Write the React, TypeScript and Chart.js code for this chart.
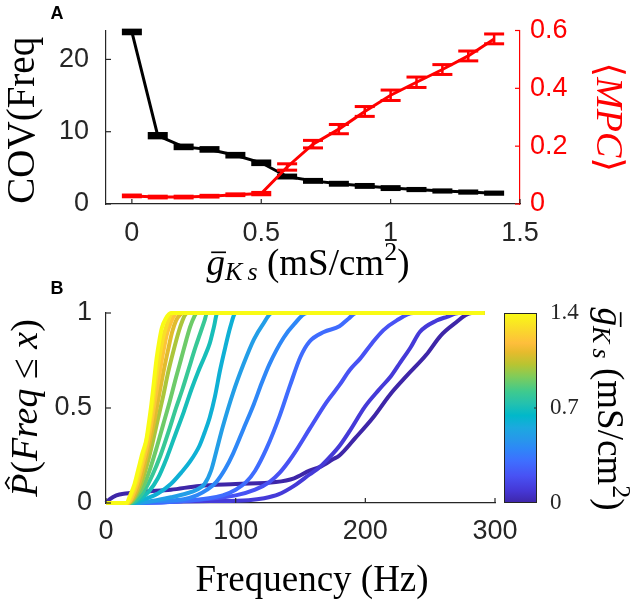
import React, { useEffect, useRef } from 'react';
import { Chart, registerables } from 'chart.js';

Chart.register(...registerables);

// ---------- Panel A data ----------
const gKs = [0, 0.1, 0.2, 0.3, 0.4, 0.5, 0.6, 0.7, 0.8, 0.9, 1.0, 1.1, 1.2, 1.3, 1.4];
const covFreq = [23.8, 9.45, 7.9, 7.55, 6.75, 5.7, 3.8, 3.2, 2.8, 2.5, 2.2, 2.0, 1.8, 1.65, 1.5];
const covErr = [0.25, 0.3, 0.25, 0.25, 0.25, 0.25, 0.2, 0.2, 0.2, 0.2, 0.2, 0.15, 0.15, 0.15, 0.15];
const mpc = [0.028, 0.024, 0.024, 0.027, 0.032, 0.036, 0.128, 0.207, 0.259, 0.32, 0.376, 0.421, 0.465, 0.512, 0.571];
const mpcErr = [0.003, 0.003, 0.003, 0.003, 0.003, 0.004, 0.011, 0.013, 0.016, 0.017, 0.018, 0.018, 0.017, 0.017, 0.017];
const gTicks = [0, 0.5, 1, 1.5];
const covTicks = [0, 10, 20];
const mpcTicks = [0, 0.2, 0.4, 0.6];

// ---------- Panel B data (empirical CDFs, [Hz, P]) ----------
const freqTicks = [0, 100, 200, 300];
const probTicks = [0, 0.5, 1];
const cbTicks = [0, 0.7, 1.4];

const cdf00 = [[0, 0], [3, 0.02], [8, 0.04], [15, 0.05], [30, 0.06], [50, 0.07], [72, 0.09], [100, 0.1], [131, 0.11], [145, 0.13], [157, 0.17], [165, 0.19], [175, 0.23], [180, 0.25], [192, 0.34], [206, 0.45], [219, 0.57], [232, 0.67], [247, 0.78], [258, 0.88], [268, 0.94], [282, 1], [292, 1]];
const cdf01 = [[0, 0], [10, 0], [30, 0.005], [80, 0.01], [110, 0.015], [122, 0.025], [133, 0.045], [145, 0.09], [157, 0.15], [165, 0.19], [175, 0.26], [180, 0.3], [188, 0.38], [200, 0.51], [211, 0.6], [220, 0.67], [227, 0.74], [235, 0.82], [242, 0.9], [255, 0.96], [263, 0.98], [272, 1], [292, 1]];
const cdf02 = [[0, 0], [25, 0], [60, 0.01], [100, 0.04], [115, 0.07], [126, 0.11], [134, 0.16], [141, 0.22], [147, 0.28], [157, 0.39], [170, 0.53], [180, 0.62], [188, 0.7], [196, 0.76], [205, 0.84], [214, 0.91], [224, 0.96], [237, 1], [292, 1]];
const cdf03 = [[0, 0], [25, 0], [60, 0.01], [90, 0.04], [100, 0.07], [108, 0.11], [115, 0.17], [124, 0.29], [134, 0.46], [142, 0.62], [150, 0.77], [157, 0.85], [168, 0.9], [180, 0.93], [187, 0.97], [193, 1], [292, 1]];
const cdf04 = [[0, 0], [22, 0], [40, 0.01], [60, 0.02], [70, 0.04], [78, 0.07], [85, 0.11], [92, 0.18], [98, 0.26], [106, 0.39], [114, 0.52], [120, 0.63], [126, 0.73], [137, 0.87], [145, 0.94], [155, 1], [292, 1]];
const cdf05 = [[0, 0], [22, 0], [35, 0.01], [50, 0.03], [62, 0.05], [70, 0.07], [76, 0.1], [81, 0.17], [85, 0.27], [90, 0.4], [98, 0.58], [106, 0.73], [114, 0.86], [121, 0.94], [128, 1], [292, 1]];
const cdf06 = [[0, 0], [21, 0], [30, 0.02], [40, 0.05], [50, 0.1], [58, 0.16], [65, 0.22], [72, 0.3], [76, 0.37], [80, 0.45], [84, 0.56], [88, 0.7], [92, 0.82], [96, 0.93], [100, 1], [292, 1]];
const cdf07 = [[0, 0], [20, 0], [26, 0.02], [33, 0.06], [40, 0.13], [47, 0.24], [54, 0.37], [60, 0.48], [66, 0.6], [71, 0.69], [76, 0.77], [80, 0.84], [83, 0.92], [86, 1], [292, 1]];
const cdf08 = [[0, 0], [19, 0], [24, 0.02], [30, 0.07], [36, 0.15], [42, 0.25], [48, 0.37], [54, 0.5], [59, 0.6], [64, 0.71], [69, 0.82], [73, 0.9], [76, 0.96], [78, 1], [292, 1]];
const cdf09 = [[0, 0], [18, 0], [23, 0.03], [29, 0.09], [34, 0.18], [39, 0.29], [44, 0.41], [49, 0.53], [54, 0.66], [58, 0.76], [62, 0.86], [65, 0.93], [68, 0.98], [70, 1], [292, 1]];
const cdf10 = [[0, 0], [18, 0], [22, 0.03], [27, 0.1], [32, 0.21], [36, 0.32], [40, 0.44], [44, 0.56], [48, 0.69], [52, 0.8], [56, 0.9], [59, 0.96], [61, 0.99], [63, 1], [292, 1]];
const cdf11 = [[0, 0], [17, 0], [21, 0.03], [26, 0.11], [30, 0.21], [34, 0.33], [38, 0.46], [41, 0.57], [44, 0.68], [48, 0.81], [51, 0.9], [54, 0.96], [57, 0.99], [59, 1], [292, 1]];
const cdf12 = [[0, 0], [17, 0], [20, 0.03], [24, 0.1], [28, 0.2], [32, 0.31], [35, 0.42], [38, 0.55], [41, 0.67], [44, 0.79], [47, 0.89], [50, 0.95], [53, 0.99], [55, 1], [292, 1]];
const cdf13 = [[0, 0], [16, 0], [19, 0.03], [23, 0.1], [27, 0.2], [30, 0.29], [33, 0.39], [36, 0.52], [38, 0.63], [41, 0.76], [44, 0.87], [47, 0.94], [49, 0.98], [52, 1], [292, 1]];
const cdf14 = [[0, 0], [16, 0], [18, 0.03], [22, 0.1], [25, 0.18], [28, 0.26], [31, 0.33], [33, 0.42], [35, 0.52], [37, 0.64], [39, 0.76], [41, 0.85], [43, 0.92], [46, 0.97], [50, 1], [292, 1]];
const cdfCurves = [cdf00, cdf01, cdf02, cdf03, cdf04, cdf05, cdf06, cdf07, cdf08, cdf09, cdf10, cdf11, cdf12, cdf13, cdf14];

// ---------- styles ----------
const SANS = "'Liberation Sans', Arial, sans-serif";
const SERIF = "'Liberation Serif', 'DejaVu Serif', serif";
const AXIS = '#262626';
const RED = '#ff0000';
// parula colormap anchors: [index of 64, r, g, b]
const PARULA: [number, number, number, number][] = [
  [0, 0.2422, 0.1504, 0.6603], [4, 0.2706, 0.2147, 0.8364], [9, 0.2810, 0.3228, 0.9579],
  [14, 0.2440, 0.4358, 0.9988], [18, 0.1786, 0.5289, 0.9682], [21, 0.1540, 0.5902, 0.9218],
  [25, 0.1113, 0.6635, 0.8763], [29, 0.0036, 0.7203, 0.7917], [33, 0.1408, 0.7584, 0.6842],
  [37, 0.2470, 0.7918, 0.5567], [42, 0.5044, 0.7993, 0.3480], [46, 0.7242, 0.7698, 0.1910],
  [50, 0.9035, 0.7330, 0.1774], [53, 0.9956, 0.7434, 0.2371], [57, 0.9786, 0.8386, 0.1766],
  [63, 0.9769, 0.9839, 0.0805],
];
function parula(t: number): string {
  const idx = Math.max(0, Math.min(1, t)) * 63;
  let k = 0;
  while (k < PARULA.length - 2 && PARULA[k + 1][0] < idx) k++;
  const a = PARULA[k], b = PARULA[k + 1];
  const f = (idx - a[0]) / (b[0] - a[0]);
  const c = [1, 2, 3].map((j) => Math.round(255 * (a[j] + (b[j] - a[j]) * f)));
  return `rgb(${c[0]},${c[1]},${c[2]})`;
}

type Run = { t: string; it?: boolean; sc?: number; dy?: number; bar?: boolean; hat?: boolean };
function drawRuns(ctx: CanvasRenderingContext2D, runs: Run[], cx: number, cy: number, rot: number, size: number, color: string) {
  ctx.save();
  ctx.translate(cx, cy);
  ctx.rotate(rot);
  ctx.fillStyle = color;
  ctx.strokeStyle = color;
  ctx.textBaseline = 'alphabetic';
  ctx.textAlign = 'left';
  const fontOf = (r: Run) => `${r.it ? 'italic ' : ''}${Math.round(size * (r.sc || 1))}px ${SERIF}`;
  const widths = runs.map((r) => { ctx.font = fontOf(r); return ctx.measureText(r.t).width; });
  const total = widths.reduce((a, b) => a + b, 0);
  let x = -total / 2;
  const base = 0.23 * size;
  runs.forEach((r, i) => {
    ctx.font = fontOf(r);
    const y = base - (r.dy || 0) * size;
    ctx.fillText(r.t, x, y);
    const w = widths[i];
    if (r.bar) {
      ctx.lineWidth = size * 0.045;
      ctx.beginPath();
      ctx.moveTo(x + w * 0.25, y - size * 0.6);
      ctx.lineTo(x + w * 1.05, y - size * 0.6);
      ctx.stroke();
    }
    if (r.hat) {
      const mx = x + w * 0.6;
      const top = y - size * 0.82;
      ctx.lineWidth = size * 0.045;
      ctx.beginPath();
      ctx.moveTo(mx - w * 0.26, top + size * 0.1);
      ctx.lineTo(mx, top);
      ctx.lineTo(mx + w * 0.26, top + size * 0.1);
      ctx.stroke();
    }
    x += w;
  });
  ctx.restore();
}

const gLabel: Run[] = [
  { t: 'g', it: true, bar: true }, { t: 'K\u2009s', it: true, sc: 0.7, dy: -0.15 },
  { t: ' (mS/cm' }, { t: '2', sc: 0.7, dy: 0.38 }, { t: ')' },
];

function inTicks(list: { axis: string; values: number[]; color: string; len: number }[]) {
  return {
    id: 'inTicks',
    afterDraw(chart: any) {
      const ctx = chart.ctx;
      list.forEach(({ axis, values, color, len }) => {
        const s = chart.scales[axis];
        ctx.save();
        ctx.strokeStyle = color;
        ctx.lineWidth = 1.2;
        values.forEach((v) => {
          const p = s.getPixelForValue(v);
          ctx.beginPath();
          if (s.isHorizontal()) { ctx.moveTo(p, s.top); ctx.lineTo(p, s.top - len); }
          else if (s.position === 'left') { ctx.moveTo(s.right, p); ctx.lineTo(s.right + len, p); }
          else { ctx.moveTo(s.left, p); ctx.lineTo(s.left - len, p); }
          ctx.stroke();
        });
        ctx.restore();
      });
    },
  };
}

const fixedTicks = (vals: number[]) => (s: any) => { s.ticks = vals.map((v) => ({ value: v })); };
const tickFont = { family: SANS, size: 27, lineHeight: 1 };

export default function App() {
  const refA = useRef<HTMLCanvasElement>(null);
  const refB = useRef<HTMLCanvasElement>(null);

  useEffect(() => {
    const errPlugin = {
      id: 'errbars',
      afterDatasetDraw(chart: any, args: any) {
        const ctx = chart.ctx;
        const xs = chart.scales.x;
        const isRed = args.index === 0;
        const ys = chart.scales[isRed ? 'yR' : 'yL'];
        const vals = isRed ? mpc : covFreq;
        const errs = isRed ? mpcErr : covErr;
        ctx.save();
        ctx.fillStyle = isRed ? RED : '#000';
        gKs.forEach((g, i) => {
          const px = xs.getPixelForValue(g);
          const hi = ys.getPixelForValue(vals[i] + errs[i]);
          const lo = ys.getPixelForValue(vals[i] - errs[i]);
          const half = 10, cap = 3;
          if (lo - hi < 6) {
            ctx.fillRect(px - half, hi - cap / 2, 2 * half, lo - hi + cap);
          } else {
            ctx.fillRect(px - half, hi - cap / 2, 2 * half, cap);
            ctx.fillRect(px - half, lo - cap / 2, 2 * half, cap);
            ctx.fillRect(px - 1.25, hi, 2.5, lo - hi);
          }
        });
        ctx.restore();
      },
    };
    const titlesA = {
      id: 'titlesA',
      afterDraw(chart: any) {
        const ctx = chart.ctx;
        const ca = chart.chartArea;
        const my = (ca.top + ca.bottom) / 2;
        ctx.save();
        ctx.font = `bold 18px ${SANS}`;
        ctx.fillStyle = '#000';
        ctx.textAlign = 'center';
        ctx.textBaseline = 'middle';
        ctx.fillText('A', 57, 14);
        ctx.fillText('B', 57, 289);
        ctx.restore();
        drawRuns(ctx, [{ t: 'COV(Freq' }], 25, my + 3, -Math.PI / 2, 39, '#000');
        drawRuns(ctx, [{ t: '\u27E8' }, { t: 'MPC', it: true }, { t: '\u27E9' }], 606, my, Math.PI / 2, 38, RED);
        drawRuns(ctx, gLabel, 308, 266, 0, 37, '#000');
      },
    };

    const chartA = new Chart(refA.current!, {
      type: 'line',
      data: {
        datasets: [
          { label: 'MPC', data: gKs.map((g, i) => ({ x: g, y: mpc[i] })), yAxisID: 'yR', borderColor: RED, borderWidth: 3, pointRadius: 0, tension: 0 },
          { label: 'COV', data: gKs.map((g, i) => ({ x: g, y: covFreq[i] })), yAxisID: 'yL', borderColor: '#000', borderWidth: 3, pointRadius: 0, tension: 0 },
        ],
      },
      options: {
        animation: false,
        responsive: false,
        layout: { padding: { top: 14, bottom: 317, left: 0, right: 0 } },
        plugins: { legend: { display: false }, tooltip: { enabled: false } },
        scales: {
          x: {
            type: 'linear', min: -0.1, max: 1.5,
            afterBuildTicks: fixedTicks(gTicks),
            afterFit: (s: any) => { s.height = 86; },
            grid: { display: false, drawTicks: false },
            border: { color: AXIS, width: 1.2 },
            ticks: { font: tickFont, color: AXIS, padding: 16, maxRotation: 0, autoSkip: false, callback: (v: any) => String(v) },
          },
          yL: {
            type: 'linear', position: 'left', min: 0, max: 24,
            afterBuildTicks: fixedTicks(covTicks),
            afterFit: (s: any) => { s.width = 106; },
            grid: { display: false, drawTicks: false },
            border: { color: AXIS, width: 1.2 },
            ticks: { font: tickFont, color: AXIS, padding: 17, callback: (v: any) => String(v) },
          },
          yR: {
            type: 'linear', position: 'right', min: 0, max: 0.6,
            afterBuildTicks: fixedTicks(mpcTicks),
            afterFit: (s: any) => { s.width = 110; },
            grid: { display: false, drawTicks: false },
            border: { color: RED, width: 1.2 },
            ticks: { font: tickFont, color: RED, padding: 10, callback: (v: any) => String(v) },
          },
        },
      } as any,
      plugins: [
        errPlugin,
        titlesA,
        inTicks([
          { axis: 'x', values: gTicks, color: AXIS, len: 5 },
          { axis: 'yL', values: covTicks, color: AXIS, len: 5 },
          { axis: 'yR', values: mpcTicks, color: RED, len: 5 },
        ]),
      ],
    });

    const colorbar = {
      id: 'colorbar',
      afterDraw(chart: any) {
        const ctx = chart.ctx;
        const ca = chart.chartArea;
        const cb = chart.scales.cb;
        const top = cb.getPixelForValue(cbTicks[cbTicks.length - 1]);
        const bot = cb.getPixelForValue(cbTicks[0]);
        const x0 = ca.right + 9, w = 33;
        const grad = ctx.createLinearGradient(0, bot, 0, top);
        PARULA.forEach((p) => grad.addColorStop(p[0] / 63, `rgb(${Math.round(p[1] * 255)},${Math.round(p[2] * 255)},${Math.round(p[3] * 255)})`));
        ctx.save();
        ctx.fillStyle = grad;
        ctx.fillRect(x0, top, w, bot - top);
        ctx.strokeStyle = AXIS;
        ctx.lineWidth = 1;
        ctx.strokeRect(x0 + 0.5, top + 0.5, w - 1, bot - top - 1);
        const pm = cb.getPixelForValue(cbTicks[1]);
        ctx.beginPath();
        ctx.moveTo(x0 + w, pm);
        ctx.lineTo(x0 + w - 3, pm);
        ctx.stroke();
        ctx.restore();
        drawRuns(ctx, [{ t: 'P', it: true, hat: true }, { t: '(' }, { t: 'Freq', it: true }, { t: ' \u2264 ' }, { t: 'x', it: true }, { t: ')' }], 28, (ca.top + ca.bottom) / 2, -Math.PI / 2, 38, '#000');
        drawRuns(ctx, [{ t: 'Frequency (Hz)' }], 312, 582, 0, 37, '#000');
        drawRuns(ctx, gLabel, 607, 409, Math.PI / 2, 37, '#000');
      },
    };

    const dsB = cdfCurves.map((pts, i) => ({
      label: `g${gKs[i]}`,
      data: pts.map(([x, y]) => ({ x, y })),
      borderColor: parula(gKs[i] / 1.4),
      borderWidth: 4,
      pointRadius: 0,
      cubicInterpolationMode: 'monotone',
      clip: false,
      yAxisID: 'y',
    })).reverse();

    const chartB = new Chart(refB.current!, {
      type: 'line',
      data: { datasets: dsB as any },
      options: {
        animation: false,
        responsive: false,
        layout: { padding: { top: 313, bottom: 0, left: 0, right: 0 } },
        plugins: { legend: { display: false }, tooltip: { enabled: false } },
        scales: {
          x: {
            type: 'linear', min: 0, max: 300,
            afterBuildTicks: fixedTicks(freqTicks),
            afterFit: (s: any) => { s.height = 104; },
            grid: { display: false, drawTicks: false },
            border: { color: AXIS, width: 1.2 },
            ticks: { font: tickFont, color: AXIS, padding: 15, maxRotation: 0, autoSkip: false, callback: (v: any) => String(v) },
          },
          y: {
            type: 'linear', position: 'left', min: 0, max: 1,
            afterBuildTicks: fixedTicks(probTicks),
            afterFit: (s: any) => { s.width = 106; },
            grid: { display: false, drawTicks: false },
            border: { color: AXIS, width: 1.2 },
            ticks: { font: tickFont, color: AXIS, padding: 14, callback: (v: any) => String(v) },
          },
          cb: {
            type: 'linear', position: 'right', min: 0, max: 1.4,
            afterBuildTicks: fixedTicks(cbTicks),
            afterFit: (s: any) => { s.width = 135; },
            grid: { display: false, drawTicks: false },
            border: { display: false },
            ticks: { font: { family: SERIF, size: 23, lineHeight: 1 }, color: AXIS, padding: 55, callback: (v: any) => String(v) },
          },
        },
      } as any,
      plugins: [
        colorbar,
        inTicks([
          { axis: 'x', values: freqTicks, color: AXIS, len: 5 },
          { axis: 'y', values: probTicks, color: AXIS, len: 5 },
        ]),
      ],
    });

    return () => { chartA.destroy(); chartB.destroy(); };
  }, []);

  const cs: React.CSSProperties = { position: 'absolute', left: 0, top: 0, width: 630, height: 607 };
  return (
    <div style={{ position: 'absolute', left: 0, top: 0, width: 630, height: 607, background: '#fff' }}>
      <canvas ref={refA} width={630} height={607} style={cs} />
      <canvas ref={refB} width={630} height={607} style={cs} />
    </div>
  );
}
